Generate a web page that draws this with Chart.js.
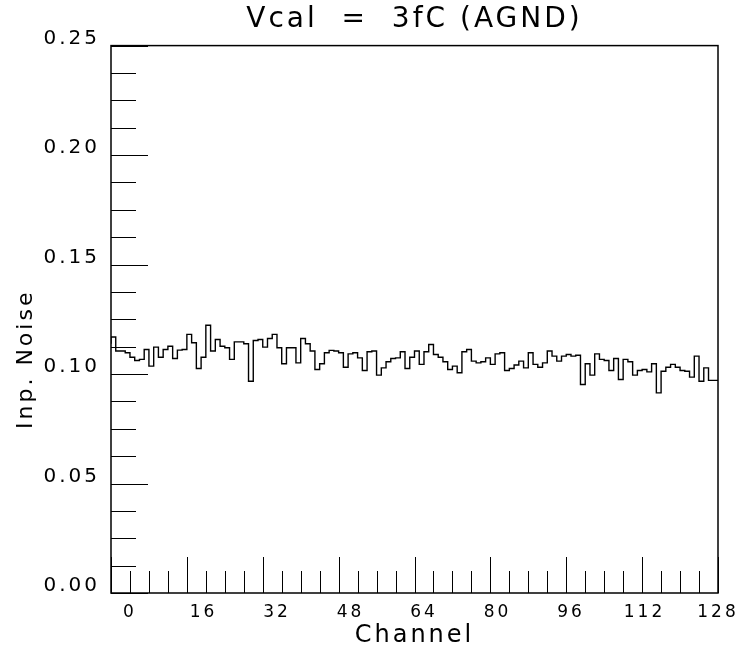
<!DOCTYPE html>
<html>
<head>
<meta charset="utf-8">
<title>Vcal = 3fC (AGND)</title>
<script src="https://cdn.jsdelivr.net/npm/chart.js@4.4.1/dist/chart.umd.min.js"></script>
<style>
  html, body { margin: 0; padding: 0; background: #fff; }
</style>
</head>
<body>
<canvas id="chart" width="747" height="657"></canvas>
<script>
// input noise per channel (128 channels)
const noise = [
  0.1138, 0.1169, 0.1105, 0.1105, 0.1097, 0.1077, 0.1062, 0.1067,
  0.1112, 0.1036, 0.1123, 0.1077, 0.1112, 0.1127, 0.1071, 0.1109,
  0.1112, 0.1181, 0.1143, 0.1025, 0.1077, 0.1223, 0.1105, 0.1158,
  0.1127, 0.1120, 0.1067, 0.1147, 0.1147, 0.1138, 0.0967, 0.1153,
  0.1158, 0.1123, 0.1162, 0.1181, 0.1120, 0.1047, 0.1120, 0.1120,
  0.1051, 0.1162, 0.1138, 0.1105, 0.1021, 0.1047, 0.1097, 0.1108,
  0.1105, 0.1097, 0.1031, 0.1092, 0.1097, 0.1074, 0.1016, 0.1102,
  0.1105, 0.0995, 0.1028, 0.1056, 0.1071, 0.1074, 0.1102, 0.1025,
  0.1077, 0.1105, 0.1044, 0.1102, 0.1135, 0.1089, 0.1077, 0.1056,
  0.1021, 0.1036, 0.1006, 0.1102, 0.1112, 0.1059, 0.1051, 0.1056,
  0.1074, 0.1044, 0.1092, 0.1097, 0.1016, 0.1025, 0.1041, 0.1059,
  0.1028, 0.1097, 0.1044, 0.1031, 0.1051, 0.1105, 0.1082, 0.1059,
  0.1082, 0.1089, 0.1082, 0.1086, 0.0952, 0.1047, 0.0995, 0.1092,
  0.1067, 0.1062, 0.1016, 0.1071, 0.0975, 0.1067, 0.1056, 0.0995,
  0.1016, 0.1021, 0.1010, 0.1047, 0.0914, 0.1013, 0.1031, 0.1044,
  0.1031, 0.1016, 0.1013, 0.0986, 0.1082, 0.0967, 0.1028, 0.0971
];
const xLabels = [0, 16, 32, 48, 64, 80, 96, 112, 128];
const yLabels = [0, 0.05, 0.10, 0.15, 0.20, 0.25];

// tick marks (drawn inside the frame, PAW style)
const xTickStep = 4, xMajorStep = 16;
const yTickStep = 0.0125, yMajorStep = 0.05;
// the channel labels sit shifted against the histogram axis in the original
const labelAxisMin = -4.14;

const FONT = "'DejaVu Sans', sans-serif";

const points = noise.map((v, i) => ({ x: i, y: v }));
points.push({ x: noise.length, y: noise[noise.length - 1] });

const spacing = {
  id: "spacing",
  afterLayout(chart) {
    // centre the title over the plot frame, not the whole canvas
    chart.titleBlock.left = chart.chartArea.left;
    chart.titleBlock.right = chart.chartArea.right;
  },
  beforeDraw(chart) { chart.ctx.letterSpacing = "3px"; }
};

const frameTicks = {
  id: "frameTicks",
  afterDatasetsDraw(chart) {
    const { ctx, chartArea: a, scales } = chart;
    const px = v => Math.round(scales.x.getPixelForValue(v)) + 0.5;
    const py = v => Math.round(scales.y.getPixelForValue(v)) + 0.5;
    const bottom = Math.round(a.bottom), left = Math.round(a.left);
    ctx.save();
    ctx.strokeStyle = "#000";
    ctx.lineWidth = 1;
    ctx.beginPath();
    for (let v = scales.x.min; v <= scales.x.max + 1e-9; v += xTickStep) {
      const len = v % xMajorStep === 0 ? 36 : 22;
      ctx.moveTo(px(v), bottom);
      ctx.lineTo(px(v), bottom - len);
    }
    for (let i = 0; i * yTickStep <= scales.y.max + 1e-9; i++) {
      const v = i * yTickStep;
      const major = Math.abs(v / yMajorStep - Math.round(v / yMajorStep)) < 1e-6;
      ctx.moveTo(left, py(v));
      ctx.lineTo(left + (major ? 37 : 25), py(v));
    }
    ctx.stroke();
    ctx.lineWidth = 1.5;
    ctx.strokeRect(a.left, a.top, a.width, a.height);
    ctx.restore();
  }
};

new Chart(document.getElementById("chart"), {
  type: "line",
  data: {
    datasets: [{
      data: points,
      stepped: "after",
      borderColor: "#000",
      borderWidth: 1.4,
      pointRadius: 0,
      fill: false,
      xAxisID: "x",
      yAxisID: "y"
    }]
  },
  options: {
    responsive: false,
    animation: false,
    devicePixelRatio: 1,
    layout: { padding: { left: 0, right: 29, top: 0, bottom: 0 } },
    plugins: {
      legend: { display: false },
      tooltip: { enabled: false },
      title: {
        display: true,
        text: "Vcal  =  3fC (AGND)",
        color: "#000",
        font: { family: FONT, size: 28, weight: "normal" },
        padding: { top: 3, bottom: 9 }
      }
    },
    scales: {
      x: { type: "linear", min: 0, max: 128, display: false },
      xl: {
        type: "linear",
        position: "bottom",
        min: labelAxisMin,
        max: 128,
        afterBuildTicks: s => { s.ticks = xLabels.map(value => ({ value })); },
        ticks: { color: "#000", font: { family: FONT, size: 17 }, padding: 9, maxRotation: 0, autoSkip: false },
        grid: { display: false, drawTicks: false },
        border: { display: false },
        title: {
          display: true, text: "Channel", color: "#000",
          font: { family: FONT, size: 24 }, padding: { top: 0, bottom: 7 }
        },
        afterFit: s => { s.height = 64; }
      },
      y: {
        type: "linear",
        min: 0,
        max: 0.25,
        afterBuildTicks: s => { s.ticks = yLabels.map(value => ({ value })); },
        ticks: {
          color: "#000", font: { family: FONT, size: 20 }, padding: 11, labelOffset: -7,
          callback: v => v.toFixed(2)
        },
        grid: { display: false, drawTicks: false },
        border: { display: false },
        title: {
          display: true, text: "Inp. Noise        ", color: "#000",
          font: { family: FONT, size: 22 }, padding: { top: 13, bottom: 0 }
        },
        afterFit: s => { s.width = 111; }
      }
    }
  },
  plugins: [spacing, frameTicks]
});
</script>
</body>
</html>
